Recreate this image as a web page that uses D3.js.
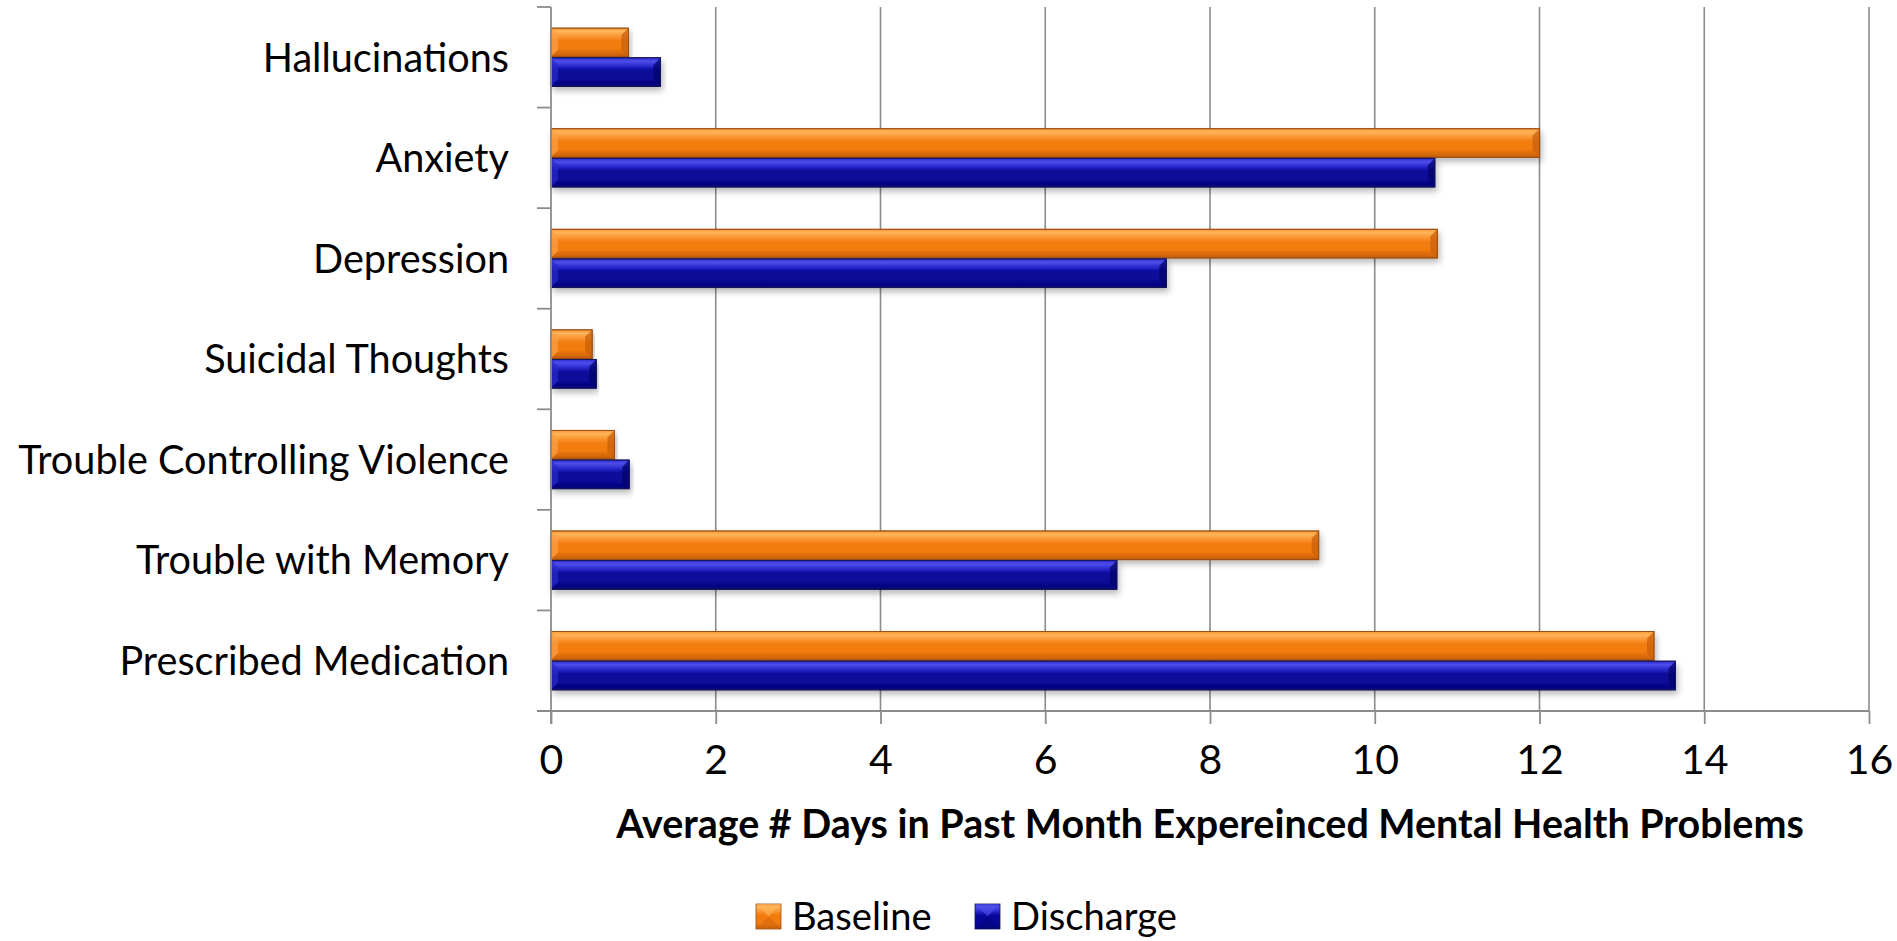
<!DOCTYPE html>
<html>
<head>
<meta charset="utf-8">
<script src="https://cdn.jsdelivr.net/npm/d3@7"></script>
<style>
  html, body { margin: 0; padding: 0; background: #fff; }
  svg { display: block; }
  text { font-family: Lato, "Open Sans", sans-serif; fill: #000; }
</style>
</head>
<body>
<svg id="chart" width="1897" height="941"></svg>
<script>
// ---- data ----
const categories = ["Hallucinations", "Anxiety", "Depression", "Suicidal Thoughts",
  "Trouble Controlling Violence", "Trouble with Memory", "Prescribed Medication"];
const seriesNames = ["Baseline", "Discharge"];
const baseline  = [0.94, 12.0, 10.76, 0.50, 0.77, 9.32, 13.39];
const discharge = [1.33, 10.73, 7.47, 0.55, 0.95, 6.87, 13.65];
const xTicks = [0, 2, 4, 6, 8, 10, 12, 14, 16];
const xTitle = "Average # Days in Past Month Expereinced Mental Health Problems";

const seriesValues = [baseline, discharge];
const svg = d3.select("#chart");
const W = 1897, H = 941;
const m = { left: 551, right: W - 1869, top: 7, bottom: H - 711 };
const plotW = W - m.left - m.right, plotH = H - m.top - m.bottom;

const x = d3.scaleLinear().domain([0, 16]).range([m.left, m.left + plotW]);
const y = d3.scaleBand().domain(categories).range([m.top, m.top + plotH])
  .paddingInner(0.42).paddingOuter(0.21);
const ySub = d3.scaleBand().domain(seriesNames).range([0, y.bandwidth()]).paddingInner(0.03);

const palette = {
  Baseline:  { top: "#FFB55A", light: "#FB9733", main: "#F27B10", dark: "#D4660C", edge: "#9A4E12", bevL: "#F9A04A", bevR: "#C9600C" },
  Discharge: { top: "#4E4EEA", light: "#2C2CD0", main: "#07079A", dark: "#050580", edge: "#14145A", bevL: "#2A2AC8", bevR: "#03036A" }
};

const defs = svg.append("defs");
const f = defs.append("filter").attr("id", "shadow").attr("x", "-5%").attr("y", "-30%").attr("width", "110%").attr("height", "180%");
f.append("feDropShadow").attr("dx", 2).attr("dy", 4).attr("stdDeviation", 3)
  .attr("flood-color", "#000").attr("flood-opacity", 0.28);
seriesNames.forEach(s => {
  const p = palette[s];
  const g = defs.append("linearGradient").attr("id", "grad-" + s).attr("x1", 0).attr("y1", 0).attr("x2", 0).attr("y2", 1);
  [[0, p.light], [0.12, p.top], [0.28, p.light], [0.45, p.main], [0.8, p.main], [0.92, p.dark], [1, p.edge]]
    .forEach(([o, c]) => g.append("stop").attr("offset", o).attr("stop-color", c));
});

// ---- gridlines ----
svg.append("g").selectAll("line").data(xTicks.filter(d => d > 0)).join("line")
  .attr("x1", d => x(d)).attr("x2", d => x(d))
  .attr("y1", m.top).attr("y2", m.top + plotH)
  .attr("stroke", "#8c8c8c").attr("stroke-width", 1.6);

// ---- bars ----
const rows = categories.map((c, i) => ({ c, vals: seriesNames.map((s, j) => ({ s, v: seriesValues[j][i] })) }));
const groups = svg.append("g").selectAll("g").data(rows).join("g")
  .attr("transform", d => `translate(0,${y(d.c)})`);
const bars = groups.selectAll("g.bar").data(d => d.vals).join("g").attr("class", "bar")
  .attr("transform", d => `translate(${x(0)},${ySub(d.s)})`);
bars.append("rect")
  .attr("width", d => x(d.v) - x(0)).attr("height", ySub.bandwidth())
  .attr("fill", d => `url(#grad-${d.s})`)
  .attr("stroke", d => palette[d.s].edge).attr("stroke-width", 0.8)
  .attr("filter", "url(#shadow)");
// bevel ends
const bev = 7;
bars.append("path")
  .attr("d", d => { const w = x(d.v) - x(0), h = ySub.bandwidth(), b = Math.min(bev, w / 2);
    return `M${w},0 L${w - b},${b} L${w - b},${h - b} L${w},${h} Z`; })
  .attr("fill", d => palette[d.s].bevR).attr("opacity", 0.75);
bars.append("path")
  .attr("d", d => { const w = x(d.v) - x(0), h = ySub.bandwidth(), b = Math.min(bev, w / 2);
    return `M0,0 L${b},${b} L${b},${h - b} L0,${h} Z`; })
  .attr("fill", d => palette[d.s].bevL).attr("opacity", 0.7);
bars.append("path")
  .attr("d", d => { const w = x(d.v) - x(0), h = ySub.bandwidth(), b = Math.min(bev, w / 2);
    return `M0,${h} L${b},${h - b} L${w - b},${h - b} L${w},${h} Z`; })
  .attr("fill", d => palette[d.s].dark).attr("opacity", 0.5);
bars.append("rect")
  .attr("width", d => x(d.v) - x(0)).attr("height", ySub.bandwidth())
  .attr("fill", "none")
  .attr("stroke", d => palette[d.s].edge).attr("stroke-width", 0.9);

// ---- axes ----
const axisColor = "#8c8c8c";
const xAxis = svg.append("g").attr("transform", `translate(0,${m.top + plotH})`)
  .call(d3.axisBottom(x).tickValues(xTicks).tickSize(13).tickFormat(d3.format("d")));
xAxis.select(".domain").remove();
xAxis.append("line").attr("x1", m.left - 14).attr("x2", x(16)).attr("y1", 0).attr("y2", 0)
  .attr("stroke", axisColor).attr("stroke-width", 1.8);
xAxis.selectAll(".tick line").attr("stroke", axisColor).attr("stroke-width", 1.8);
xAxis.selectAll(".tick text").attr("font-family", "Lato, sans-serif").attr("font-size", 41).attr("fill", "#000")
  .attr("dy", null).attr("y", 63);

// left axis with boundary ticks
const yAxisG = svg.append("g");
yAxisG.append("line").attr("x1", x(0)).attr("x2", x(0)).attr("y1", m.top).attr("y2", m.top + plotH + 13)
  .attr("stroke", axisColor).attr("stroke-width", 1.8);
const step = y.step();
yAxisG.selectAll("line.bt").data(d3.range(categories.length + 1)).join("line").attr("class", "bt")
  .attr("x1", x(0) - 14).attr("x2", x(0))
  .attr("y1", i => m.top + i * step).attr("y2", i => m.top + i * step)
  .attr("stroke", axisColor).attr("stroke-width", 1.8);

// category labels
const catLabels = svg.append("g").selectAll("text").data(categories).join("text")
  .attr("x", 509).attr("y", d => y(d) + y.bandwidth() / 2)
  .attr("text-anchor", "end").attr("dy", "0.36em")
  .attr("font-size", 100).text(d => d);
function fit(sel, refNode, target) {
  const w = refNode.getComputedTextLength();
  const size = 100 * target / w;
  sel.attr("font-size", size);
}
fit(catLabels, catLabels.filter(d => d === "Trouble Controlling Violence").node(), 491);

// axis title
const title = svg.append("text").attr("x", (x(0) + x(16)) / 2).attr("y", 838)
  .attr("text-anchor", "middle").attr("font-weight", "bold").attr("font-size", 100).text(xTitle);
fit(title, title.node(), 1188);

// legend
const legend = svg.append("g");
const legX = [756, 975];
const li = legend.selectAll("g").data(seriesNames).join("g")
  .attr("transform", (d, i) => `translate(${legX[i]},904)`);
li.append("rect").attr("width", 25).attr("height", 25)
  .attr("fill", d => `url(#grad-${d})`).attr("stroke", d => palette[d].edge).attr("stroke-width", 0.8);
li.append("path").attr("d", "M0,0 L25,0 L12.5,12.5 Z").attr("fill", d => palette[d].top).attr("opacity", 0.6);
li.append("path").attr("d", "M0,25 L25,25 L12.5,12.5 Z").attr("fill", d => palette[d].dark).attr("opacity", 0.6);
const legText = li.append("text").attr("x", 36).attr("y", 12.5).attr("dy", "0.36em")
  .attr("font-size", 100).text(d => d);
fit(legText, legText.filter(d => d === "Discharge").node(), 166);
</script>
</body>
</html>
